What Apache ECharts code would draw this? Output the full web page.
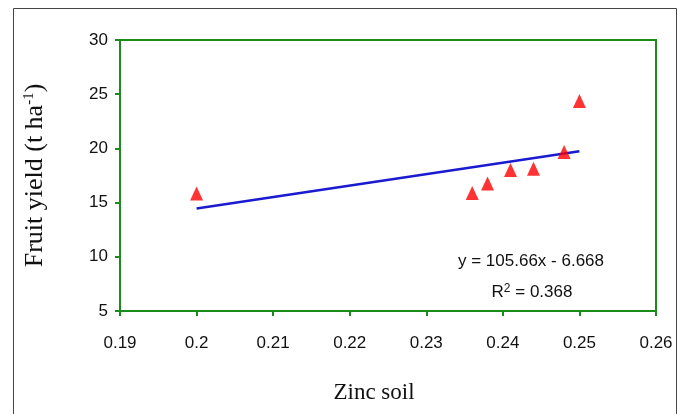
<!DOCTYPE html>
<html>
<head>
<meta charset="utf-8">
<script src="https://cdn.jsdelivr.net/npm/echarts@6/dist/echarts.min.js"></script>
<style>
html,body{margin:0;padding:0;background:#fff;}
#chart{width:683px;height:414px;}
</style>
</head>
<body>
<div id="chart"></div>
<script>
// Data
var zincSoil   = [0.200, 0.236, 0.238, 0.241, 0.244, 0.248, 0.250];
var fruitYield = [15.85, 15.88, 16.77, 18.0, 18.12, 19.67, 24.37];
// Trendline as printed on the chart
var trendSlope = 105.66;
var trendIntercept = -6.668;
var trendRange = [0.200, 0.250];
var equationText = 'y = 105.66x - 6.668';
var r2Text = '0.368';
var xTicks = { min: 0.19, max: 0.26, interval: 0.01 };
var yTicks = { min: 5, max: 30, interval: 5 };

var points = zincSoil.map(function (x, i) { return [x, fruitYield[i]]; });
var trend = trendRange.map(function (x) { return [x, trendSlope * x + trendIntercept]; });

var green = '#1b8c1b';
var chart = echarts.init(document.getElementById('chart'));
chart.setOption({
  animation: false,
  backgroundColor: '#ffffff',
  grid: {
    left: 120, right: 27, top: 40, bottom: 103,
    show: true, borderColor: green, borderWidth: 2, backgroundColor: 'transparent'
  },
  xAxis: {
    type: 'value',
    min: xTicks.min, max: xTicks.max, interval: xTicks.interval,
    name: 'Zinc soil',
    nameLocation: 'middle',
    nameGap: 70,
    nameTextStyle: { fontFamily: 'Liberation Serif', fontSize: 23, color: '#111', padding: [0, 28, 0, 0] },
    axisLine: { show: true, lineStyle: { color: green, width: 2 } },
    axisTick: { show: true, inside: false, length: 5, lineStyle: { color: green, width: 2 } },
    axisLabel: { margin: 24, fontFamily: 'Liberation Sans', fontSize: 17, color: '#111' },
    splitLine: { show: false }
  },
  yAxis: {
    type: 'value',
    min: yTicks.min, max: yTicks.max, interval: yTicks.interval,
    name: 'Fruit yield (t ha{sup|-1})',
    nameLocation: 'middle',
    nameRotate: 90,
    nameGap: 72,
    nameTextStyle: {
      fontFamily: 'Liberation Serif', fontSize: 26, color: '#111',
      rich: { sup: { fontFamily: 'Liberation Serif', fontSize: 15, verticalAlign: 'top', color: '#111' } }
    },
    axisLine: { show: true, lineStyle: { color: green, width: 2 } },
    axisTick: { show: true, inside: false, length: 5, lineStyle: { color: green, width: 2 } },
    axisLabel: { margin: 12, fontFamily: 'Liberation Sans', fontSize: 17, color: '#111' },
    splitLine: { show: false }
  },
  series: [
    {
      type: 'line',
      data: trend,
      symbol: 'none',
      lineStyle: { color: '#1a1ad0', width: 2.5 },
      z: 2
    },
    {
      type: 'scatter',
      data: points,
      symbol: 'triangle',
      symbolSize: [13, 14],
      itemStyle: { color: '#ff0000' },
      z: 3
    }
  ],
  graphic: [
    {
      type: 'rect',
      shape: { x: 13.5, y: 8.5, width: 663, height: 430 },
      style: { fill: 'none', stroke: '#444', lineWidth: 1 },
      silent: true
    },
    {
      type: 'text',
      x: 531, y: 261,
      style: {
        text: equationText,
        font: '17px "Liberation Sans"', fill: '#111',
        textAlign: 'center', textVerticalAlign: 'middle'
      }
    },
    {
      type: 'text',
      x: 532, y: 292,
      style: {
        text: 'R{sup|2} = ' + r2Text,
        font: '17px "Liberation Sans"', fill: '#111',
        textAlign: 'center', textVerticalAlign: 'middle',
        rich: {
          sup: { fontSize: 12, fontFamily: 'Liberation Sans', verticalAlign: 'top', padding: [0, 0, 6, 0], fill: '#111' }
        }
      }
    }
  ]
});
</script>
</body>
</html>
